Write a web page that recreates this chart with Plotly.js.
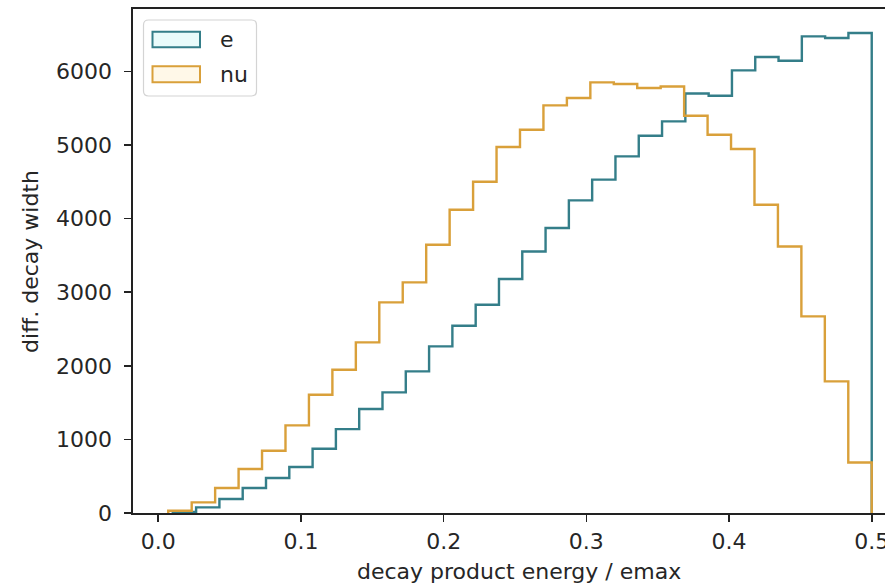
<!DOCTYPE html>
<html><head><meta charset="utf-8">
<script src="https://cdn.plot.ly/plotly-3.0.1.min.js"></script>
<style>html,body{margin:0;padding:0;background:#fff;overflow:hidden}</style>
</head><body><div id="chart" style="width:885px;height:586px"></div>
<script>
// ---- data ----
const nBins = 30;
const eBinMin = 0.0102;
const nuBinMin = 0.0070;
const binMax = 0.5;
const eCounts = [15, 76, 190, 340, 475, 625, 874, 1140, 1413, 1639, 1924, 2264, 2545, 2830, 3179, 3554, 3872, 4248, 4529, 4845, 5126, 5321, 5700, 5670, 6014, 6196, 6145, 6476, 6454, 6522];
const nuCounts = [30, 144, 340, 598, 846, 1190, 1607, 1947, 2318, 2862, 3133, 3645, 4121, 4500, 4973, 5208, 5538, 5638, 5851, 5829, 5774, 5796, 5398, 5140, 4946, 4189, 3622, 2671, 1788, 687];
const seriesNames = ["e", "nu"];
const xTickVals = [0.0, 0.1, 0.2, 0.3, 0.4, 0.5];
const xTickText = ["0.0", "0.1", "0.2", "0.3", "0.4", "0.5"];
const yTickVals = [0, 1000, 2000, 3000, 4000, 5000, 6000];
const yTickText = ["0", "1000", "2000", "3000", "4000", "5000", "6000"];
const xLabel = "decay product energy / emax";
const yLabel = "diff. decay width";

// ---- styling ----
const eColor = "#347e89";
const nuColor = "#d9a03a";
const txtColor = "#262626";
const fontFam = "DejaVu Sans, Liberation Sans, sans-serif";

function edgesOf(min, max, n) {
  const w = (max - min) / n, e = [];
  for (let k = 0; k <= n; k++) e.push(min + k * w);
  return e;
}
function stepTrace(min, counts, color, name) {
  const ed = edgesOf(min, binMax, nBins);
  return {
    type: "scatter", mode: "lines", name: name,
    x: [ed[0]].concat(ed),
    y: [0].concat(counts).concat([0]),
    line: {shape: "hv", color: color, width: 2.4},
    hoverinfo: "skip", showlegend: false
  };
}

// plot area in pixels: left 133, right 885, top 9, bottom 513
const L = 133, R = 885, T = 9, B = 513;
const px = v => (v - L) / (R - L);
const py = v => (B - v) / (B - T);

const shapes = [
  {type: "path", xref: "paper", yref: "paper",
   path: (function(){
     const x0 = px(143.5), x1 = px(256.5), y0 = py(96), y1 = py(20);
     const rx = 5 / (R - L), ry = 5 / (B - T);
     return `M ${x0+rx},${y0} L ${x1-rx},${y0} Q ${x1},${y0} ${x1},${y0+ry} L ${x1},${y1-ry} Q ${x1},${y1} ${x1-rx},${y1} L ${x0+rx},${y1} Q ${x0},${y1} ${x0},${y1-ry} L ${x0},${y0+ry} Q ${x0},${y0} ${x0+rx},${y0} Z`;
   })(),
   line: {color: "#d4d4d4", width: 1.2}, fillcolor: "rgba(255,255,255,0.85)"},
  {type: "rect", xref: "paper", yref: "paper", x0: px(152.5), x1: px(200), y0: py(47.3), y1: py(31.7),
   line: {color: eColor, width: 2}, fillcolor: "#e9fbfb"},
  {type: "rect", xref: "paper", yref: "paper", x0: px(152.5), x1: px(200), y0: py(82.3), y1: py(66.3),
   line: {color: nuColor, width: 2}, fillcolor: "#fff8e8"}
];

const annotations = [
  {xref: "paper", yref: "paper", x: px(218), y: py(39.5), xanchor: "left", yanchor: "middle",
   text: seriesNames[0], showarrow: false, font: {family: fontFam, size: 22, color: txtColor}},
  {xref: "paper", yref: "paper", x: px(218), y: py(74.3), xanchor: "left", yanchor: "middle",
   text: seriesNames[1], showarrow: false, font: {family: fontFam, size: 22, color: txtColor}},
  {xref: "paper", yref: "paper", x: px(519), y: py(571), xanchor: "center", yanchor: "middle",
   text: xLabel, showarrow: false, font: {family: fontFam, size: 22, color: txtColor}},
  {xref: "paper", yref: "paper", x: px(30), y: py(262), xanchor: "center", yanchor: "middle",
   text: yLabel, textangle: -90, showarrow: false, font: {family: fontFam, size: 22, color: txtColor}}
];

const data = [
  stepTrace(eBinMin, eCounts, eColor, seriesNames[0]),
  stepTrace(nuBinMin, nuCounts, nuColor, seriesNames[1])
];

const axisCommon = {
  showgrid: false, zeroline: false, showline: true, linecolor: "#222", linewidth: 1.6,
  ticks: "outside", ticklen: 7, tickwidth: 1.6, tickcolor: "#222",
  tickfont: {family: fontFam, size: 22, color: txtColor}, automargin: false, fixedrange: true,
  ticklabeloverflow: "allow"
};

const layout = {
  width: 885, height: 586,
  margin: {l: L, r: 885 - R, t: T, b: 586 - B, pad: 0},
  paper_bgcolor: "#fff", plot_bgcolor: "#fff",
  showlegend: false,
  xaxis: Object.assign({}, axisCommon, {
    range: [-0.0177, 0.5093], tickmode: "array", tickvals: xTickVals, ticktext: xTickText, mirror: true,
    ticklabelstandoff: 1
  }),
  yaxis: Object.assign({}, axisCommon, {
    range: [0, 6848], tickmode: "array", tickvals: yTickVals, ticktext: yTickText,
    ticklabelstandoff: 8
  }),
  shapes: shapes,
  annotations: annotations
};

Plotly.newPlot("chart", data, layout, {staticPlot: true, displayModeBar: false});
</script>
</body></html>
